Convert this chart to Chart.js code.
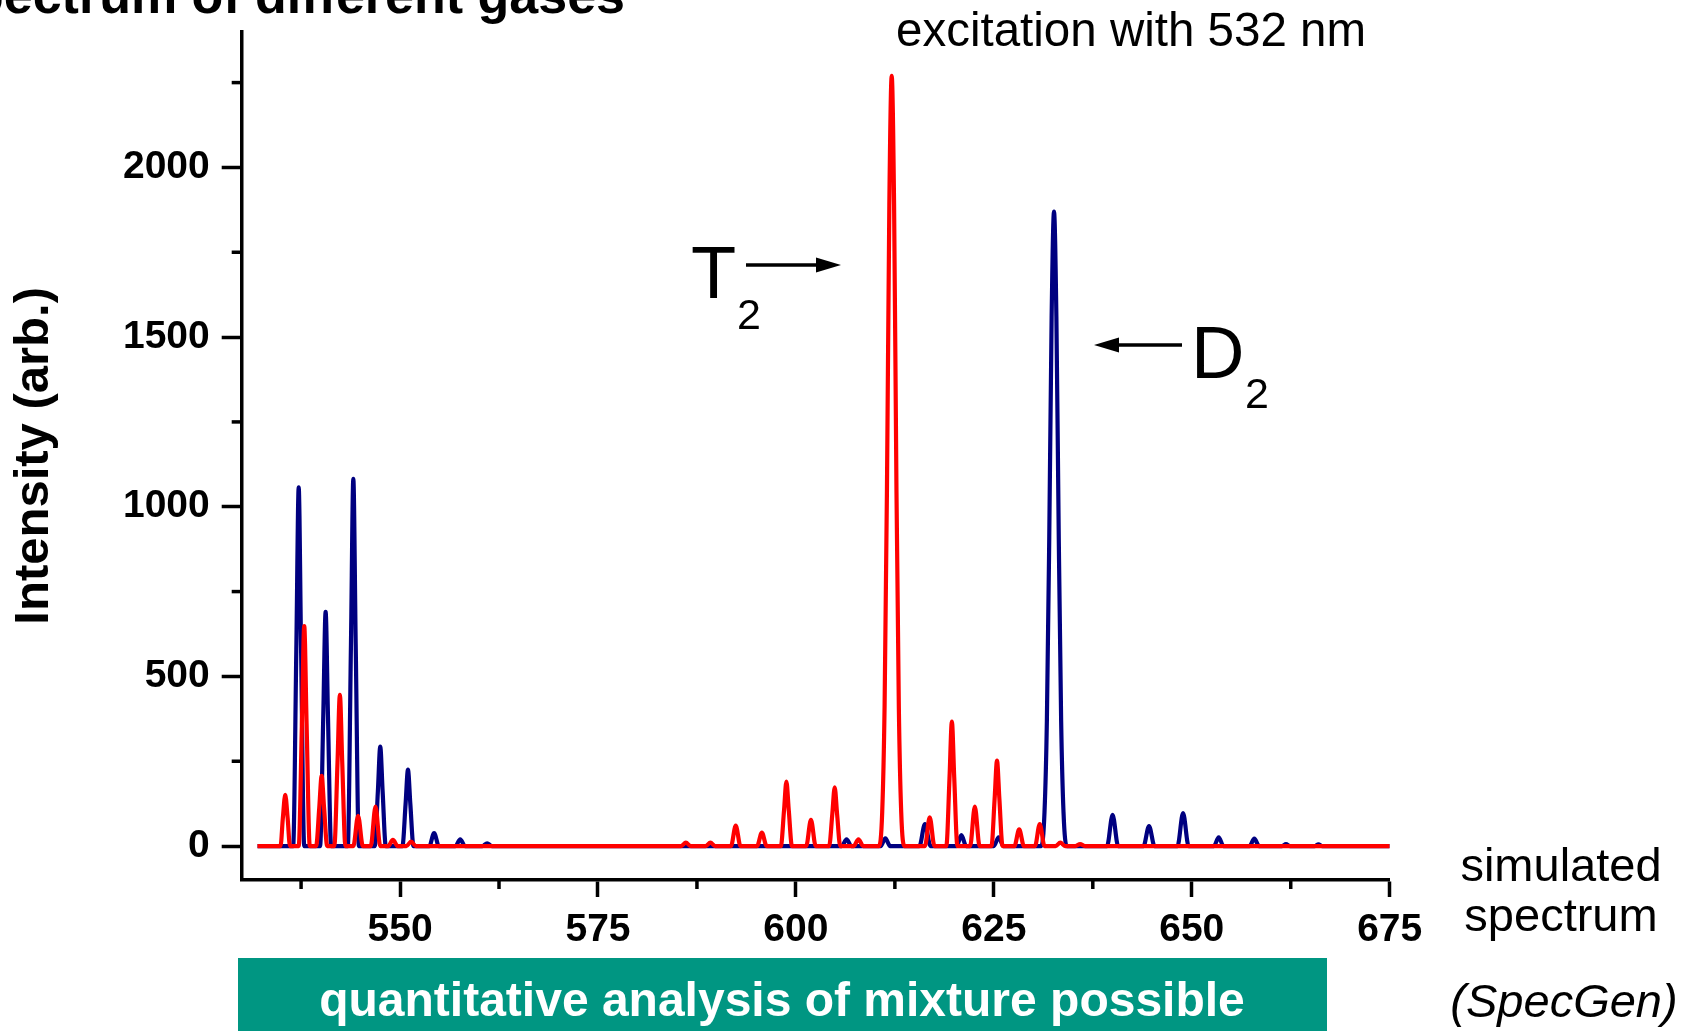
<!DOCTYPE html>
<html>
<head>
<meta charset="utf-8">
<title>Raman spectrum of different gases</title>
<script src="https://cdn.jsdelivr.net/npm/chart.js@4.4.1/dist/chart.umd.min.js"></script>
<style>
  html, body { margin: 0; padding: 0; background: #fff; }
  canvas { display: block; }
</style>
</head>
<body>
<canvas id="spectrumChart" width="1691" height="1031"></canvas>
<script>
// D2 spectrum (navy)
const d2Wavelength = [
    532.0, 536.5, 536.9, 537.2, 537.5, 537.9,
    539.9, 540.3, 540.6, 540.9, 541.3,
    543.4, 543.8, 544.1, 544.4, 544.8,
    546.8, 547.2, 547.5, 547.8, 548.2,
    550.3, 550.7, 551.0, 551.3, 551.7,
    553.7, 554.3, 554.9, 557.0, 557.6, 558.2, 560.4, 561.0, 561.6,
    605.8, 606.4, 607.0, 610.7, 611.3, 611.9, 615.6, 616.3, 617.0,
    620.3, 620.9, 621.5, 625.0, 625.6, 626.2,
    631.0, 631.4, 631.7, 632.0, 632.3, 632.6, 632.9, 633.2, 633.5, 633.8, 634.2,
    639.3, 640.0, 640.7, 643.9, 644.6, 645.3, 648.2, 648.9, 649.6,
    652.8, 653.4, 654.0, 657.3, 657.9, 658.5, 661.4, 661.9, 662.4,
    665.5, 666.0, 666.5, 675.0
];
const d2Intensity = [
    0, 0, 581, 1057, 581, 0,
    0, 380, 690, 380, 0,
    0, 595, 1082, 595, 0,
    0, 161, 293, 161, 0,
    0, 124, 225, 124, 0,
    0, 38, 0, 0, 20, 0, 0, 8, 0,
    0, 20, 0, 0, 23, 0, 0, 65, 0,
    0, 32, 0, 0, 26, 0,
    0, 100, 370, 910, 1560, 1870, 1560, 910, 370, 100, 0,
    0, 92, 0, 0, 59, 0, 0, 97, 0,
    0, 26, 0, 0, 22, 0, 0, 6, 0,
    0, 5, 0, 0
];

// T2 spectrum (red)
const t2Wavelength = [
    532.0, 534.9, 535.2, 535.5, 535.8, 536.1,
    537.2, 537.6, 537.9, 538.2, 538.6,
    539.4, 539.8, 540.1, 540.4, 540.8,
    541.7, 542.1, 542.4, 542.7, 543.1,
    544.1, 544.7, 545.3, 546.3, 546.9, 547.5,
    548.5, 549.1, 549.7, 550.8, 551.4, 552.0,
    585.5, 586.1, 586.7, 588.6, 589.2, 589.8,
    591.8, 592.4, 593.0, 595.1, 595.7, 596.3,
    598.1, 598.5, 598.8, 599.1, 599.5,
    601.3, 601.9, 602.5,
    604.2, 604.6, 604.9, 605.2, 605.6,
    607.3, 607.9, 608.5,
    610.5, 610.9, 611.2, 611.5, 611.8, 612.1, 612.4, 612.7, 613.0, 613.3, 613.7,
    616.3, 616.9, 617.5,
    619.0, 619.4, 619.7, 620.0, 620.4,
    622.0, 622.6, 623.2,
    624.7, 625.1, 625.4, 625.7, 626.1,
    627.6, 628.2, 628.8, 630.2, 630.8, 631.4,
    632.8, 633.4, 634.0, 635.3, 635.9, 636.5, 675.0
];
const t2Intensity = [
    0, 0, 83, 151, 83, 0,
    0, 356, 648, 356, 0,
    0, 114, 207, 114, 0,
    0, 245, 446, 245, 0,
    0, 89, 0, 0, 116, 0,
    0, 18, 0, 0, 13, 0,
    0, 10, 0, 0, 10, 0,
    0, 60, 0, 0, 40, 0,
    0, 105, 190, 105, 0,
    0, 77, 0,
    0, 95, 173, 95, 0,
    0, 20, 0,
    0, 100, 410, 1050, 1890, 2270, 1890, 1050, 410, 100, 0,
    0, 85, 0,
    0, 200, 367, 200, 0,
    0, 116, 0,
    0, 139, 252, 139, 0,
    0, 49, 0, 0, 65, 0,
    0, 10, 0, 0, 6, 0, 0
];

const xTickValues = [550, 575, 600, 625, 650, 675];
const xMinorTicks = [537.5, 562.5, 587.5, 612.5, 637.5, 662.5];
const yTickValues = [0, 500, 1000, 1500, 2000];
const yMinorTicks = [250, 750, 1250, 1750, 2250];

const fontFamily = "'Liberation Sans', Arial, Helvetica, sans-serif";

function toPoints(xs, ys) {
    return xs.map((x, i) => ({ x: x, y: ys[i] }));
}

// kleine Striche zwischen den Hauptticks
const minorTicks = {
    id: 'minorTicks',
    afterDraw(chart) {
        const ctx = chart.ctx;
        const area = chart.chartArea;
        const xs = chart.scales.x;
        const ys = chart.scales.y;
        ctx.save();
        ctx.strokeStyle = '#000';
        ctx.lineWidth = 3.5;
        xMinorTicks.forEach(v => {
            const px = xs.getPixelForValue(v);
            ctx.beginPath();
            ctx.moveTo(px, area.bottom);
            ctx.lineTo(px, area.bottom + 9);
            ctx.stroke();
        });
        yMinorTicks.forEach(v => {
            const py = ys.getPixelForValue(v);
            ctx.beginPath();
            ctx.moveTo(area.left, py);
            ctx.lineTo(area.left - 10, py);
            ctx.stroke();
        });
        ctx.restore();
    }
};

function arrow(ctx, xFrom, xTo, y) {
    const dir = xTo > xFrom ? 1 : -1;
    const headLen = 25;
    ctx.beginPath();
    ctx.moveTo(xFrom, y);
    ctx.lineTo(xTo - dir * headLen, y);
    ctx.stroke();
    ctx.beginPath();
    ctx.moveTo(xTo, y);
    ctx.lineTo(xTo - dir * headLen, y - 7.5);
    ctx.lineTo(xTo - dir * headLen, y + 7.5);
    ctx.closePath();
    ctx.fill();
}

// Texte, Pfeile und der gruene Kasten
const annotations = {
    id: 'annotations',
    afterDraw(chart) {
        const ctx = chart.ctx;
        ctx.save();
        ctx.fillStyle = '#000';
        ctx.strokeStyle = '#000';
        ctx.lineWidth = 3.4;

        ctx.textAlign = 'right';
        ctx.textBaseline = 'alphabetic';
        ctx.font = 'bold 52px ' + fontFamily;
        ctx.fillText('Raman spectrum of different gases', 625, 13);

        ctx.textAlign = 'center';
        ctx.font = '47.5px ' + fontFamily;
        ctx.fillText('excitation with 532 nm', 1131, 46);

        ctx.textAlign = 'left';
        ctx.font = '74px ' + fontFamily;
        ctx.fillText('T', 691, 298);
        ctx.fillText('D', 1191, 378);
        ctx.font = '43px ' + fontFamily;
        ctx.fillText('2', 737, 329);
        ctx.fillText('2', 1245, 408);
        arrow(ctx, 746, 841, 265);
        arrow(ctx, 1182, 1094, 345);

        ctx.textAlign = 'center';
        ctx.font = '47px ' + fontFamily;
        ctx.fillText('simulated', 1561, 881);
        ctx.fillText('spectrum', 1561, 931);
        ctx.font = 'italic 47px ' + fontFamily;
        ctx.fillText('(SpecGen)', 1564, 1017);

        ctx.fillStyle = '#009682';
        ctx.fillRect(238, 958, 1089, 73);
        ctx.fillStyle = '#fff';
        ctx.font = 'bold 48px ' + fontFamily;
        ctx.fillText('quantitative analysis of mixture possible', 782, 1016);
        ctx.restore();
    }
};

const ctx = document.getElementById('spectrumChart').getContext('2d');

new Chart(ctx, {
    type: 'line',
    data: {
        datasets: [{
            label: 'T2',
            data: toPoints(t2Wavelength, t2Intensity),
            borderColor: '#ff0000',
            borderWidth: 4.2,
            borderJoinStyle: 'round',
            pointRadius: 0,
            cubicInterpolationMode: 'monotone',
            fill: false,
            order: 0
        }, {
            label: 'D2',
            data: toPoints(d2Wavelength, d2Intensity),
            borderColor: '#000080',
            borderWidth: 4.2,
            borderJoinStyle: 'round',
            pointRadius: 0,
            cubicInterpolationMode: 'monotone',
            fill: false,
            order: 1
        }]
    },
    options: {
        responsive: false,
        animation: false,
        devicePixelRatio: 1,
        layout: {
            padding: { left: 0, top: 31.7, right: 301.3, bottom: 0 }
        },
        plugins: {
            legend: { display: false },
            tooltip: { enabled: false }
        },
        scales: {
            x: {
                type: 'linear',
                min: 530,
                max: 675,
                afterBuildTicks: function(scale) {
                    scale.ticks = xTickValues.map(v => ({ value: v }));
                },
                afterFit: function(scale) {
                    scale.height = 151;
                },
                border: { display: true, color: '#000', width: 3.5 },
                grid: {
                    drawOnChartArea: false,
                    drawTicks: true,
                    tickLength: 17,
                    tickWidth: 3.5,
                    tickColor: '#000'
                },
                ticks: {
                    color: '#000',
                    padding: 14,
                    maxRotation: 0,
                    autoSkip: false,
                    font: { family: fontFamily, size: 39, weight: 'bold', lineHeight: 1.0 },
                    callback: v => String(v)
                }
            },
            y: {
                type: 'linear',
                min: -100,
                max: 2400,
                afterBuildTicks: function(scale) {
                    scale.ticks = yTickValues.map(v => ({ value: v }));
                },
                afterFit: function(scale) {
                    scale.width = 241.7;
                },
                border: { display: true, color: '#000', width: 3.5 },
                grid: {
                    drawOnChartArea: false,
                    drawTicks: true,
                    tickLength: 20,
                    tickWidth: 3.5,
                    tickColor: '#000'
                },
                ticks: {
                    color: '#000',
                    padding: 12,
                    font: { family: fontFamily, size: 39, weight: 'bold', lineHeight: 1.0 },
                    callback: v => String(v)
                },
                title: {
                    display: true,
                    text: 'Intensity (arb.)',
                    color: '#000',
                    font: { family: fontFamily, size: 49, weight: 'bold' },
                    padding: { top: 5, bottom: 0 }
                }
            }
        }
    },
    plugins: [minorTicks, annotations]
});
</script>
</body>
</html>
